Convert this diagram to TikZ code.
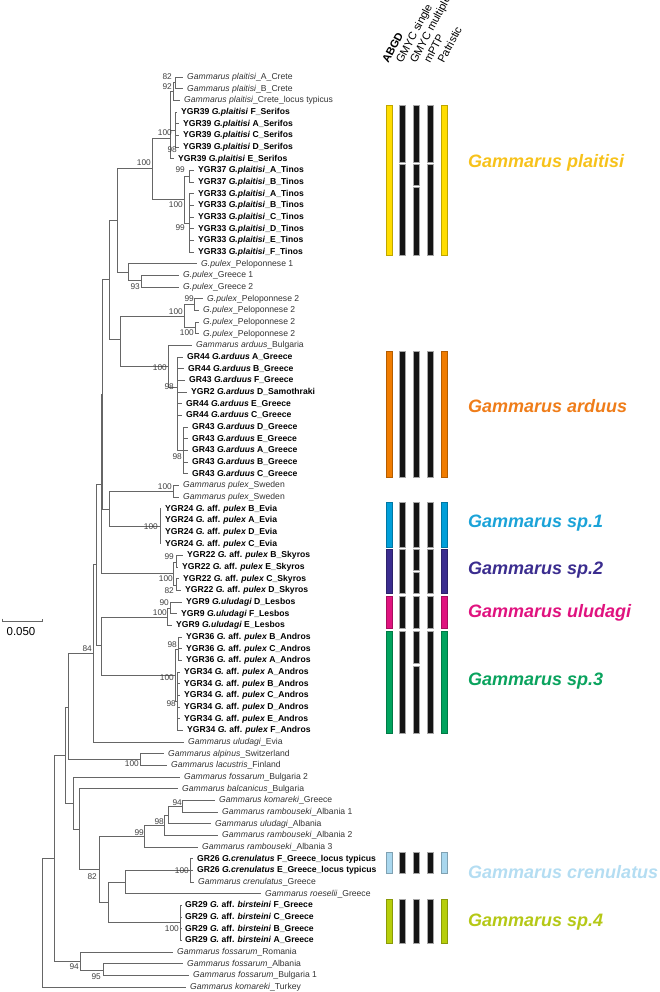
\documentclass[tikz,border=0pt]{standalone}
\usepackage{fontspec}
\setmainfont{Liberation Sans}
\usetikzlibrary{positioning}
\usetikzlibrary{calc}

\definecolor{plaBar}{HTML}{FFDD00}\definecolor{plaTxt}{HTML}{F7C21B}
\definecolor{ardBar}{HTML}{F07C00}\definecolor{ardTxt}{HTML}{EF7D1A}
\definecolor{spaBar}{HTML}{009FD9}\definecolor{spaTxt}{HTML}{1BA3D8}
\definecolor{spbBar}{HTML}{3B2D8F}\definecolor{spbTxt}{HTML}{3B2D8F}
\definecolor{uluBar}{HTML}{E0137F}\definecolor{uluTxt}{HTML}{E0137F}
\definecolor{spcBar}{HTML}{00A35E}\definecolor{spcTxt}{HTML}{0AA35E}
\definecolor{creBar}{HTML}{A9D7EE}\definecolor{creTxt}{HTML}{B4DDF2}
\definecolor{spdBar}{HTML}{B7CE0B}\definecolor{spdTxt}{HTML}{B5C816}

\newcommand{\tipfont}{\fontsize{8.6}{9}\selectfont}
\tikzstyle{branch}=[draw=black!60,line width=0.8pt]
\tikzstyle{tip}=[anchor=west,inner xsep=4pt,inner ysep=0pt,text height=6.3pt,text depth=1.6pt,font=\tipfont,text=black!80]
\tikzstyle{tipb}=[tip,font=\tipfont\bfseries,text=black]
\tikzstyle{boot}=[anchor=east,inner sep=0pt,font=\fontsize{8.3}{9}\selectfont,text=black!75]
\tikzstyle{bar}=[line width=0.4pt]
\tikzstyle{head}=[anchor=base west,rotate=62,inner sep=0pt,font=\fontsize{11}{12}\selectfont]
\tikzstyle{species}=[anchor=west,inner sep=0pt,font=\fontsize{18}{20}\selectfont\bfseries\itshape]

\begin{document}
\begin{tikzpicture}[x=1pt,y=-1pt]
\useasboundingbox (0,0) rectangle (660,992);

%tips
\foreach \r/\ts/\txt in {1/187/{\textit{Gammarus plaitisi}\_A\_Crete}, 2/187/{\textit{Gammarus plaitisi}\_B\_Crete},
    3/184/{\textit{Gammarus plaitisi}\_Crete\_locus typicus}, 17/201/{\textit{G.pulex}\_Peloponnese 1},
    18/183/{\textit{G.pulex}\_Greece 1}, 19/183/{\textit{G.pulex}\_Greece 2}, 20/207/{\textit{G.pulex}\_Peloponnese 2},
    21/203/{\textit{G.pulex}\_Peloponnese 2}, 22/203/{\textit{G.pulex}\_Peloponnese 2}, 23/203/{\textit{G.pulex}\_Peloponnese 2},
    24/196/{\textit{Gammarus arduus}\_Bulgaria}, 36/183/{\textit{Gammarus pulex}\_Sweden}, 37/183/{\textit{Gammarus pulex}\_Sweden},
    58/188/{\textit{Gammarus uludagi}\_Evia}, 59/168/{\textit{Gammarus alpinus}\_Switzerland},
    60/171/{\textit{Gammarus lacustris}\_Finland}, 61/184/{\textit{Gammarus fossarum}\_Bulgaria 2},
    62/182/{\textit{Gammarus balcanicus}\_Bulgaria}, 63/219/{\textit{Gammarus komareki}\_Greece},
    64/222/{\textit{Gammarus rambouseki}\_Albania 1}, 65/215/{\textit{Gammarus uludagi}\_Albania},
    66/222/{\textit{Gammarus rambouseki}\_Albania 2}, 67/202/{\textit{Gammarus rambouseki}\_Albania 3},
    70/198/{\textit{Gammarus crenulatus}\_Greece}, 71/265/{\textit{Gammarus roeselii}\_Greece},
    76/177/{\textit{Gammarus fossarum}\_Romania}, 77/187/{\textit{Gammarus fossarum}\_Albania},
    78/193/{\textit{Gammarus fossarum}\_Bulgaria 1}, 79/190/{\textit{Gammarus komareki}\_Turkey}}
    \node[tip] (t\r) at ({\ts-4},{77+(\r-1)*11.667}) {\txt};

\foreach \r/\ts/\txt in {4/181/{YGR39 \textit{G.plaitisi} F\_Serifos}, 5/183/{YGR39 \textit{G.plaitisi} A\_Serifos},
    6/183/{YGR39 \textit{G.plaitisi} C\_Serifos}, 7/183/{YGR39 \textit{G.plaitisi} D\_Serifos},
    8/178/{YGR39 \textit{G.plaitisi} E\_Serifos}, 9/198/{YGR37 \textit{G.plaitisi}\_A\_Tinos},
    10/198/{YGR37 \textit{G.plaitisi}\_B\_Tinos}, 11/198/{YGR33 \textit{G.plaitisi}\_A\_Tinos},
    12/198/{YGR33 \textit{G.plaitisi}\_B\_Tinos}, 13/198/{YGR33 \textit{G.plaitisi}\_C\_Tinos},
    14/198/{YGR33 \textit{G.plaitisi}\_D\_Tinos}, 15/198/{YGR33 \textit{G.plaitisi}\_E\_Tinos},
    16/198/{YGR33 \textit{G.plaitisi}\_F\_Tinos},
    25/187/{GR44 \textit{G.arduus} A\_Greece}, 26/188/{GR44 \textit{G.arduus} B\_Greece},
    27/189/{GR43 \textit{G.arduus} F\_Greece}, 28/191/{YGR2 \textit{G.arduus} D\_Samothraki},
    29/186/{GR44 \textit{G.arduus} E\_Greece}, 30/186/{GR44 \textit{G.arduus} C\_Greece},
    31/192/{GR43 \textit{G.arduus} D\_Greece}, 32/192/{GR43 \textit{G.arduus} E\_Greece},
    33/192/{GR43 \textit{G.arduus} A\_Greece}, 34/192/{GR43 \textit{G.arduus} B\_Greece},
    35/192/{GR43 \textit{G.arduus} C\_Greece},
    38/165/{YGR24 \textit{G.} aff. \textit{pulex} B\_Evia}, 39/165/{YGR24 \textit{G.} aff. \textit{pulex} A\_Evia},
    40/165/{YGR24 \textit{G.} aff. \textit{pulex} D\_Evia}, 41/165/{YGR24 \textit{G.} aff. \textit{pulex} C\_Evia},
    42/187/{YGR22 \textit{G.} aff. \textit{pulex} B\_Skyros}, 43/182/{YGR22 \textit{G.} aff. \textit{pulex} E\_Skyros},
    44/183/{YGR22 \textit{G.} aff. \textit{pulex} C\_Skyros}, 45/185/{YGR22 \textit{G.} aff. \textit{pulex} D\_Skyros},
    46/186/{YGR9 \textit{G.uludagi} D\_Lesbos}, 47/181/{YGR9 \textit{G.uludagi} F\_Lesbos},
    48/176/{YGR9 \textit{G.uludagi} E\_Lesbos},
    49/186/{YGR36 \textit{G.} aff. \textit{pulex} B\_Andros}, 50/186/{YGR36 \textit{G.} aff. \textit{pulex} C\_Andros},
    51/186/{YGR36 \textit{G.} aff. \textit{pulex} A\_Andros}, 52/184/{YGR34 \textit{G.} aff. \textit{pulex} A\_Andros},
    53/184/{YGR34 \textit{G.} aff. \textit{pulex} B\_Andros}, 54/184/{YGR34 \textit{G.} aff. \textit{pulex} C\_Andros},
    55/184/{YGR34 \textit{G.} aff. \textit{pulex} D\_Andros}, 56/184/{YGR34 \textit{G.} aff. \textit{pulex} E\_Andros},
    57/187/{YGR34 \textit{G.} aff. \textit{pulex} F\_Andros},
    68/197/{GR26 \textit{G.crenulatus} F\_Greece\_locus typicus}, 69/197/{GR26 \textit{G.crenulatus} E\_Greece\_locus typicus},
    72/185/{GR29 \textit{G.} aff. \textit{birsteini} F\_Greece}, 73/185/{GR29 \textit{G.} aff. \textit{birsteini} C\_Greece},
    74/185/{GR29 \textit{G.} aff. \textit{birsteini} B\_Greece}, 75/185/{GR29 \textit{G.} aff. \textit{birsteini} A\_Greece}}
    \node[tipb] (t\r) at ({\ts-4},{77+(\r-1)*11.667}) {\txt};

%internal nodes
\foreach \pos/\name in {{(42,922.5)/nRoot}, {(54,858)/n54}, {(80,961)/nFoss}, {(103,970)/n95}, {(65,755)/n65},
    {(68,707)/n68}, {(140,759)/nAL}, {(73,803)/n73}, {(79,829)/n79}, {(99,869)/n82}, {(144,836)/n99},
    {(164,825)/n98}, {(168,815)/n168}, {(182,806)/n94}, {(108,902)/nCrRo}, {(125,882)/nCrR},
    {(190,870)/nCr}, {(180.5,922.5)/nBir}, {(93,653)/n84}, {(96.7,564.5)/nB}, {(101.7,484)/nQ},
    {(102.7,394)/nA}, {(109,279.5)/n109}, {(117,220)/n117}, {(152,168)/nPl}, {(170,138)/nSer},
    {(173,91.5)/nCrt}, {(175,82.8)/n12}, {(175,130)/nS}, {(184,199)/nTin}, {(189,176)/n37}, {(189,223)/n33},
    {(128,272)/n128}, {(141,280)/n93}, {(120,339.5)/n120}, {(184,316)/nPel2}, {(194,304)/n99p},
    {(195,327.5)/n100p}, {(168,366)/nArd}, {(177,387)/nGR}, {(183,450.6)/n43}, {(109,509)/nSwEv},
    {(173,491.5)/nSw}, {(160,526.5)/nEv}, {(173,573.5)/nSky}, {(176,562)/n99s}, {(176,585)/n100s},
    {(101,645)/nLA}, {(167,617)/nLes}, {(170,608)/n90}, {(175,675)/nAnd}, {(178,649)/n98a}, {(177,701)/n98b}}
    \node[coordinate] (\name) at \pos {};

%branches
\foreach \source/\dest in {nRoot/n54, nRoot/t79, n54/n65, n54/nFoss, nFoss/t76, nFoss/n95, n95/t77, n95/t78,
    n65/n68, n65/n73, n68/n84, n68/nAL, nAL/t59, nAL/t60, n73/t61, n73/n79, n79/t62, n79/n82,
    n82/n99, n82/nCrRo, n99/n98, n99/t67, n98/n168, n98/t66, n168/n94, n168/t65, n94/t63, n94/t64,
    nCrRo/nCrR, nCrRo/nBir, nCrR/nCr, nCrR/t71, nCr/t68, nCr/t69, nCr/t70,
    nBir/t72, nBir/t73, nBir/t74, nBir/t75,
    n84/nB, n84/t58, nB/nQ, nB/nLA, nQ/nA, nQ/nSky, nA/n109, nA/nSwEv,
    n109/n117, n109/n120, n117/nPl, n117/n128, nPl/nSer, nPl/nTin,
    nSer/nCrt, nSer/nS, nSer/t8, nCrt/n12, nCrt/t3, n12/t1, n12/t2,
    nS/t4, nS/t5, nS/t6, nS/t7, nTin/n37, nTin/n33, n37/t9, n37/t10,
    n33/t11, n33/t12, n33/t13, n33/t14, n33/t15, n33/t16,
    n128/t17, n128/n93, n93/t18, n93/t19, n120/nPel2, n120/nArd,
    nPel2/n99p, nPel2/n100p, n99p/t20, n99p/t21, n100p/t22, n100p/t23,
    nArd/t24, nArd/nGR, nGR/t25, nGR/t26, nGR/t27, nGR/t28, nGR/t29, nGR/t30, nGR/n43,
    n43/t31, n43/t32, n43/t33, n43/t34, n43/t35,
    nSwEv/nSw, nSwEv/nEv, nSw/t36, nSw/t37, nEv/t38, nEv/t39, nEv/t40, nEv/t41,
    nSky/n99s, nSky/n100s, n99s/t42, n99s/t43, n100s/t44, n100s/t45,
    nLA/nLes, nLA/nAnd, nLes/n90, nLes/t48, n90/t46, n90/t47,
    nAnd/n98a, nAnd/n98b, n98a/t49, n98a/t50, n98a/t51,
    n98b/t52, n98b/t53, n98b/t54, n98b/t55, n98b/t56, n98b/t57}
    \draw[branch] (\source) |- (\dest);

%bootstrap values
\foreach \pos/\val [count=\i] in {{(172,77)/82}, {(172,87)/92}, {(172,133)/100}, {(177,150)/98}, {(151,163)/100},
    {(185,170)/99}, {(183,205)/100}, {(185,228)/99}, {(140,287)/93}, {(194,299)/99}, {(183,312)/100},
    {(194,333)/100}, {(167,368)/100}, {(174,387)/98}, {(182,457)/98}, {(172,487)/100}, {(158,527)/100},
    {(174,557)/99}, {(173,579)/100}, {(174,591)/82}, {(169,603)/90}, {(167,613)/100}, {(177,645)/98},
    {(174,678)/100}, {(176,704)/98}, {(92,649)/84}, {(139,764)/100}, {(182,803)/94}, {(164,822)/98},
    {(144,833)/99}, {(97,877)/82}, {(189,871)/100}, {(179,929)/100}, {(79,967)/94}, {(101,977)/95}}
    \node[boot] (bs\i) at \pos {\val};

%delimitation bars
\foreach \col/\a/\b in {2/4/8, 2/9/16, 2/25/35, 2/38/41, 2/42/45, 2/46/48, 2/49/57, 2/68/69, 2/72/75,
    3/4/8, 3/9/10, 3/11/16, 3/25/35, 3/38/41, 3/42/43, 3/44/45, 3/46/48, 3/49/51, 3/52/57, 3/68/69, 3/72/75,
    4/4/8, 4/9/16, 4/25/35, 4/38/41, 4/42/45, 4/46/48, 4/49/57, 4/68/69, 4/72/75}
    \draw[bar,fill=black!92,draw=black!35] ({388.7+13.9*(\col-1)-3},{77+(\a-1)*11.667-6.3})
        rectangle ({388.7+13.9*(\col-1)+3},{77+(\b-1)*11.667+3.3});
\foreach \a/\b/\clr in {4/16/pla, 25/35/ard, 38/41/spa, 42/45/spb, 46/48/ulu, 49/57/spc, 68/69/cre, 72/75/spd}
    \foreach \col in {1,5}
    \draw[bar,fill=\clr Bar,draw=\clr Bar!75!black] ({388.7+13.9*(\col-1)-3},{77+(\a-1)*11.667-6.3})
        rectangle ({388.7+13.9*(\col-1)+3},{77+(\b-1)*11.667+3.3});

%column heads
\node[head] (hABGD) at (388.2,64) {\textbf{ABGD}};
\node[head] (hGs) at (402.1,64) {GMYC single};
\node[head] (hGm) at (416,64) {GMYC multiple};
\node[head] (hPTP) at (429.9,64) {mPTP};
\node[head] (hPat) at (443.8,64) {Patristic};

%species names
\node[species,text=plaTxt] (spPla) at (468,163) {Gammarus plaitisi};
\node[species,text=ardTxt] (spArd) at (468,406) {Gammarus arduus};
\node[species,text=spaTxt] (spA) at (468,523) {Gammarus sp.1};
\node[species,text=spbTxt] (spB) at (468,570) {Gammarus sp.2};
\node[species,text=uluTxt] (spUlu) at (468,612.7) {Gammarus uludagi};
\node[species,text=spcTxt] (spC) at (468,680.7) {Gammarus sp.3};
\node[species,text=creTxt] (spCre) at (468,871.7) {Gammarus crenulatus};
\node[species,text=spdTxt] (spD) at (468,922) {Gammarus sp.4};

%scale
\coordinate (sbL) at (2,621);
\coordinate (sbR) at (42,621);
\draw[branch] ([yshift=2.5pt]sbL) -- (sbL) -- (sbR) -- ([yshift=2.5pt]sbR);
\node[inner sep=0pt,font=\fontsize{11.5}{12}\selectfont] (sbT) at (21,632) {0.050};

\end{tikzpicture}
\end{document}
